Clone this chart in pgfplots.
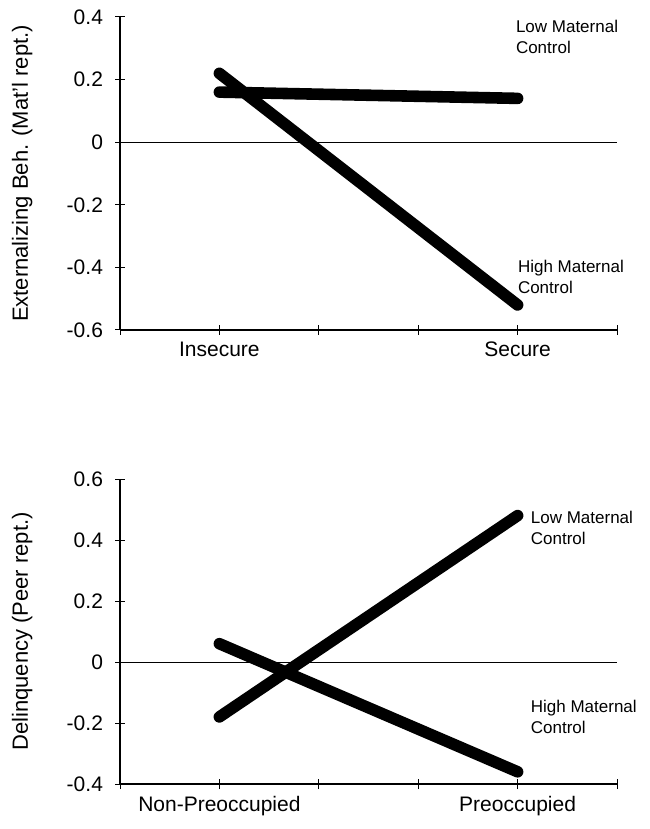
\documentclass[border=0pt]{standalone}
\usepackage{fontspec}
\setmainfont{Liberation Sans}
\usepackage{pgfplots}
\pgfplotsset{compat=1.18}

\pgfplotsset{
  panel/.style={
    scale only axis,
    width=248.5pt,
    axis x line*=bottom,
    axis y line*=left,
    axis line style={line width=0.6pt},
    tick align=center,
    major tick length=5pt,
    tick style={line width=0.5pt, black},
    xmin=0, xmax=5,
    xtick={0,1,2,3,4,5},
    tick label style={font=\fontsize{10.5}{12}\selectfont},
    yticklabel style={xshift=-2.5pt},
    every axis y label/.style={at={(axis description cs:-0.197,0.5)}, rotate=90,
      anchor=center, font=\fontsize{11}{13}\selectfont},
    clip=false,
  },
}
\tikzset{
  thick line/.style={black, line width=5.8pt, line cap=round},
  lbl/.style={anchor=west, align=left, inner sep=0pt,
    font=\fontsize{8.5}{10.5}\selectfont},
}

\begin{document}
\begin{tikzpicture}
\path[use as bounding box] (0,0) rectangle (324.5pt,414.5pt);

% upper panel
\begin{axis}[panel,
    at={(60pt,249.5pt)}, anchor=south west,
    height=156.5pt,
    ymin=-0.6, ymax=0.4,
    ytick={-0.6,-0.4,-0.2,0,0.2,0.4},
    yticklabels={-0.6,-0.4,-0.2,0,0.2,0.4},
    xticklabels={,Insecure,,,Secure,},
    ylabel={Externalizing Beh. (Mat'l rept.)},
]
\addplot[black, line width=0.5pt] coordinates {(0,0) (5,0)};
\addplot[thick line] coordinates {(1,0.16) (4,0.14)};
\addplot[thick line] coordinates {(1,0.22) (4,-0.52)};
\node[lbl] at (axis cs:3.98,0.335) {Low Maternal\\Control};
\node[lbl] at (axis cs:4.0,-0.43) {High Maternal\\Control};
\end{axis}

% lower panel
\begin{axis}[panel,
    at={(60pt,22.5pt)}, anchor=south west,
    height=152.5pt,
    ymin=-0.4, ymax=0.6,
    ytick={-0.4,-0.2,0,0.2,0.4,0.6},
    yticklabels={-0.4,-0.2,0,0.2,0.4,0.6},
    xticklabels={,Non-Preoccupied,,,Preoccupied,},
    ylabel={Delinquency (Peer rept.)},
]
\addplot[black, line width=0.5pt] coordinates {(0,0) (5,0)};
\addplot[thick line] coordinates {(1,-0.18) (4,0.48)};
\addplot[thick line] coordinates {(1,0.06) (4,-0.36)};
\node[lbl] at (axis cs:4.13,0.44) {Low Maternal\\Control};
\node[lbl] at (axis cs:4.13,-0.18) {High Maternal\\Control};
\end{axis}
\end{tikzpicture}
\end{document}
